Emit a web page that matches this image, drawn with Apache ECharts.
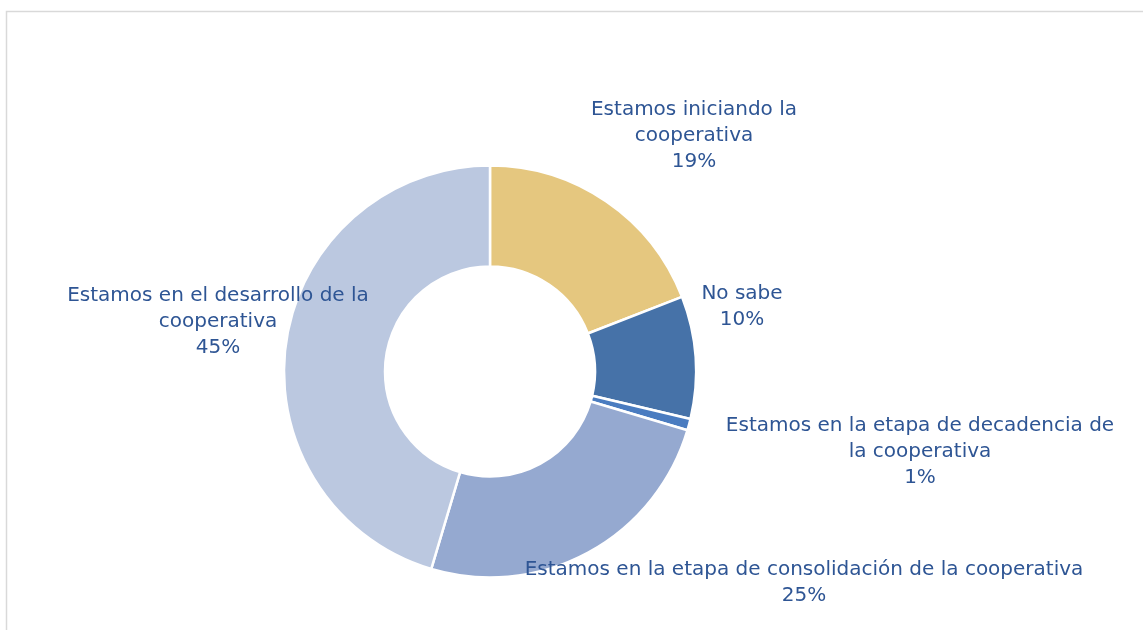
<!DOCTYPE html>
<html>
<head>
<meta charset="utf-8">
<style>
  html, body { margin: 0; padding: 0; background: #fff; }
  #chart { width: 1143px; height: 630px; }
</style>
<script src="https://cdn.jsdelivr.net/npm/echarts@6/dist/echarts.min.js"></script>
</head>
<body>
<div id="chart"></div>
<script>
// categorias (con saltos de linea como en la etiqueta original)
const categories = [
  'Estamos iniciando la\ncooperativa',
  'No sabe',
  'Estamos en la etapa de decadencia de\nla cooperativa',
  'Estamos en la etapa de consolidación de la cooperativa',
  'Estamos en el desarrollo de la\ncooperativa'
];
// porcentajes
const values = [19.1, 9.6, 0.9, 25.0, 45.4];
const colors = ['#E5C77F', '#4672A8', '#4A7CC0', '#95A9D0', '#BBC8E0'];

// donde van las etiquetas (centro del bloque de texto)
const labelPos = [
  [694, 136],
  [742, 307],
  [920, 452],
  [804, 583],
  [218, 322]
];

const chart = echarts.init(document.getElementById('chart'));

const option = {
  backgroundColor: '#fff',
  animation: false,
  graphic: [{
    type: 'rect',
    shape: { x: 6.5, y: 11.5, width: 1200, height: 700 },
    style: { fill: 'none', stroke: '#d9d9d9', lineWidth: 1.5 },
    silent: true
  }],
  series: [{
    type: 'pie',
    center: [490, 371.5],
    radius: [105, 206],
    startAngle: 90,
    clockwise: true,
    avoidLabelOverlap: false,
    itemStyle: { borderColor: '#fff', borderWidth: 2.5 },
    label: {
      show: true,
      position: 'outside',
      color: '#2E5594',
      fontFamily: 'DejaVu Sans',
      fontSize: 20,
      lineHeight: 26,
      align: 'center',
      formatter: p => p.name + '\n' + Math.round(p.value) + '%'
    },
    labelLine: { show: false },
    labelLayout: p => ({
      x: labelPos[p.dataIndex][0],
      y: labelPos[p.dataIndex][1],
      align: 'center',
      verticalAlign: 'middle'
    }),
    data: categories.map((c, i) => ({
      name: c,
      value: values[i],
      itemStyle: { color: colors[i] }
    }))
  }]
};

chart.setOption(option);
</script>
</body>
</html>
